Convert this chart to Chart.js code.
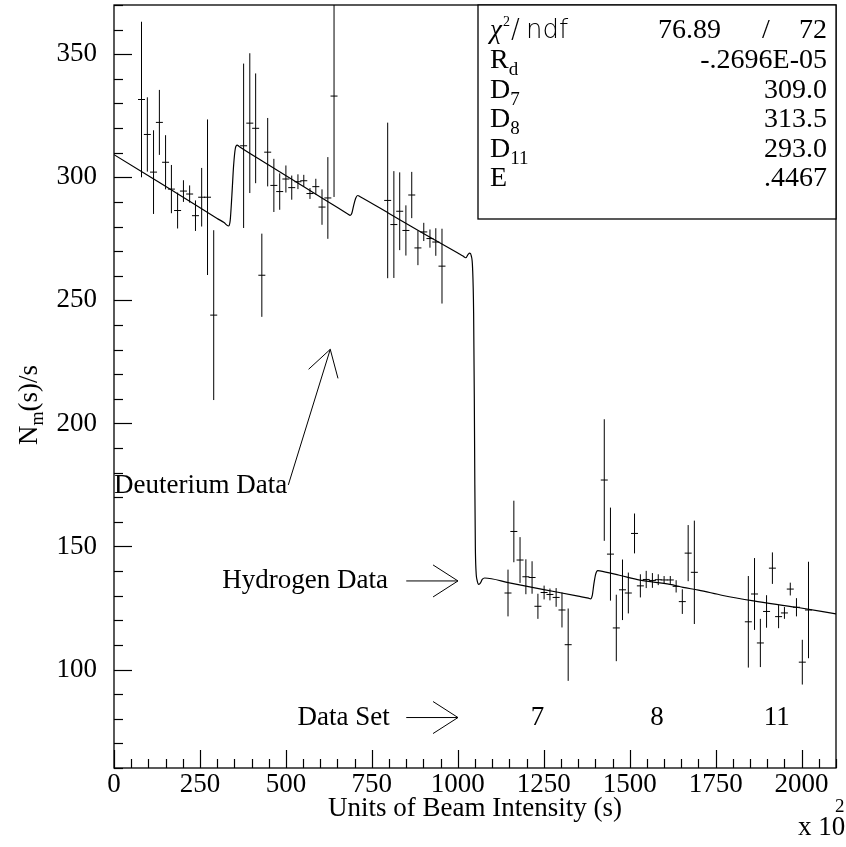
<!DOCTYPE html>
<html><head><meta charset="utf-8">
<script src="https://cdn.jsdelivr.net/npm/chart.js@4/dist/chart.umd.min.js"></script>
<style>html,body{margin:0;padding:0;background:#fff;}#wrap{width:846px;height:847px;}</style>
</head><body><div id="wrap"><canvas id="c" width="846" height="847"></canvas></div>
<script>
// ---- data ----
const deutX = [80, 97, 115, 132, 150, 167, 185, 202, 220, 237, 255, 272, 290,
  377, 395, 412, 430, 447, 465, 482, 500, 517, 535, 552, 570, 587, 605, 622, 640,
  796, 814, 831, 849, 866, 884, 901, 919, 936, 954];
const deutY = [331.6, 317.4, 302.1, 322.3, 306.1, 295.2, 286.5, 294.4, 293.2, 284.4, 291.9, 291.9, 244,
  312.8, 322, 319.9, 260.2, 310.2, 296.7, 294.2, 299.3, 295.8, 298.2, 298.6, 293.4, 296.2, 287.9, 291.6, 333,
  290.6, 280.8, 286.2, 278.4, 292.8, 271.3, 277.8, 275.1, 273.7, 263.9];
const deutErr = [31.6, 15.1, 17, 13.2, 11, 9.8, 7.3, 4.4, 3.5, 6.2, 11.9, 31.6, 34.5,
  33.4, 28.4, 22.3, 16.9, 13.9, 10.8, 7.4, 5.5, 4.9, 3, 2.4, 2.2, 3.2, 7.2, 16.6, 41,
  31.6, 21.7, 15.8, 10.2, 9.4, 7, 3.7, 3.7, 5.6, 15.2];

const hydX = [1146, 1163, 1181, 1198, 1216, 1233, 1251, 1268, 1286, 1303, 1321,
  1426, 1444, 1461, 1479, 1496, 1514, 1531, 1548, 1566, 1583, 1600, 1618, 1635, 1653, 1670, 1688,
  1845, 1863, 1880, 1898, 1915, 1933, 1950, 1967, 1985, 2002, 2020];
const hydY = [131.1, 156.1, 144.5, 137.7, 137.4, 125.7, 131.3, 130.5, 129.3, 124.2, 110.1,
  177, 146.9, 116.9, 132.4, 131.1, 155.3, 134, 136.6, 136.2, 136.5, 136.4, 136.4, 133.8, 127.6, 147.3, 139.5,
  119.4, 130.7, 110.8, 123.6, 141.2, 121.5, 123, 132.7, 125.3, 103, 124.2];
const hydErr = [9.5, 12.5, 9.3, 7.1, 6.6, 5.1, 2.8, 2.4, 3.8, 7.1, 14.7,
  24.7, 18.9, 13.5, 12.3, 8.3, 8.1, 4.7, 3.5, 3, 2.2, 1.6, 1.6, 2.5, 5, 11.4, 21,
  18.6, 14.6, 9.8, 6.6, 6.4, 4.7, 2.4, 2.6, 3.7, 9.1, 19.6];

// fit curve
const fitX = [0, 100, 200, 300, 320, 333, 338, 343, 348, 353, 358, 365, 450, 550, 650, 680, 687, 692, 697, 703, 709, 716,
  800, 900, 1000, 1015, 1023, 1030, 1035, 1039, 1043, 1046, 1048, 1049.5, 1051, 1053, 1056, 1061, 1066, 1071, 1078,
  1150, 1250, 1350, 1380, 1386, 1391, 1396, 1401, 1407, 1413, 1470, 1530, 1617, 1655, 1700, 1771, 1860, 1985, 2100];
const fitY = [309.2, 300.6, 292.0, 283.3, 281.6, 280.2, 282.5, 293, 305, 311.8, 313.1, 312.4, 305.0, 296.4, 287.7, 285.1, 284.5, 285.5, 288.5, 291.5, 292.6, 292.1,
  285.3, 277.2, 269.2, 268.0, 267.3, 268.7, 269.2, 268.2, 263, 245, 210, 175, 150, 140, 136.3, 134.6, 135.2, 136.6, 137.2,
  135.2, 132.5, 129.8, 129.0, 128.7, 130, 135, 138.8, 140.2, 140.1, 138.3, 136.3, 134.6, 133.4, 132.3, 130.1, 127.9, 125.3, 122.6];

const xTickValues = [0, 250, 500, 750, 1000, 1250, 1500, 1750, 2000];
const yTickValues = [100, 150, 200, 250, 300, 350];
const dataSetLabels = ['7', '8', '11'];
const dataSetLabelX = [1232, 1579, 1928];

const statsNames = [['R', 'd'], ['D', '7'], ['D', '8'], ['D', '11'], ['E', '']];
const statsValues = ['-.2696E-05', '309.0', '313.5', '293.0', '.4467'];
const chiValue = '76.89', ndfValue = '72';

const SERIF = '"Liberation Serif", "Times New Roman", serif';
const SANS = '"DejaVu Sans", "Liberation Sans", sans-serif';
const FS = 27;

const pts = (xs, ys) => xs.map((x, i) => ({x: x, y: ys[i]}));

function line(ctx, x1, y1, x2, y2) { ctx.beginPath(); ctx.moveTo(x1, y1); ctx.lineTo(x2, y2); ctx.stroke(); }

const decor = {
  id: 'decor',
  beforeDatasetsDraw(chart) {
    const {ctx, chartArea: a, scales: {x, y}} = chart;
    ctx.save();
    ctx.beginPath(); ctx.rect(a.left, a.top, a.right - a.left, a.bottom - a.top); ctx.clip();
    ctx.strokeStyle = '#000'; ctx.lineWidth = 1;
    const bars = (xs, ys, es) => xs.forEach((xv, i) => {
      const px = x.getPixelForValue(xv);
      line(ctx, px, y.getPixelForValue(ys[i] + es[i]), px, y.getPixelForValue(ys[i] - es[i]));
    });
    bars(deutX, deutY, deutErr);
    bars(hydX, hydY, hydErr);
    ctx.restore();
  },
  afterDraw(chart) {
    const {ctx, chartArea: a, scales: {x, y}} = chart;
    ctx.save();
    ctx.strokeStyle = '#000'; ctx.fillStyle = '#000'; ctx.lineWidth = 1.3;
    ctx.strokeRect(a.left, a.top, a.right - a.left, a.bottom - a.top);
    ctx.lineWidth = 1.2;
    // inward ticks
    for (let v = 0; v <= 2100; v += 50) {
      const px = Math.round(x.getPixelForValue(v)) + 0.5;
      const len = v % 250 === 0 ? 18 : 9;
      line(ctx, px, a.bottom, px, a.bottom - len);
    }
    for (let v = 60; v <= 370; v += 10) {
      const py = Math.round(y.getPixelForValue(v)) + 0.5;
      const len = v % 50 === 0 ? 18 : 9;
      line(ctx, a.left, py, a.left + len, py);
    }
    ctx.lineWidth = 1;
    // annotations
    ctx.textBaseline = 'middle';
    ctx.font = FS + 'px ' + SERIF;
    ctx.textAlign = 'left';
    ctx.fillText('Deuterium Data', x.getPixelForValue(0), y.getPixelForValue(174.5));
    const ax = (vx, vy) => [x.getPixelForValue(vx), y.getPixelForValue(vy)];
    let p1 = ax(507, 175), p2 = ax(629, 230.1), h1 = ax(566, 222), h2 = ax(651.5, 218.3);
    line(ctx, p1[0], p1[1], p2[0], p2[1]);
    line(ctx, h1[0], h1[1], p2[0], p2[1]);
    line(ctx, h2[0], h2[1], p2[0], p2[1]);
    const hArrow = (vy) => {
      const s = ax(850, vy), e = ax(1000.5, vy), u = ax(928, vy + 6.5), d = ax(928, vy - 6.5);
      line(ctx, s[0], s[1], e[0], e[1]);
      line(ctx, u[0], u[1], e[0], e[1]);
      line(ctx, d[0], d[1], e[0], e[1]);
    };
    ctx.textAlign = 'right';
    ctx.fillText('Hydrogen Data', x.getPixelForValue(797), y.getPixelForValue(136));
    hArrow(136);
    ctx.fillText('Data Set', x.getPixelForValue(802), y.getPixelForValue(80.5));
    hArrow(80.5);
    ctx.textAlign = 'center';
    dataSetLabels.forEach((t, i) => ctx.fillText(t, x.getPixelForValue(dataSetLabelX[i]), y.getPixelForValue(80.5)));

    // y-axis title  N_m(s)/s
    ctx.save();
    ctx.translate(a.left - 86, 405);
    ctx.rotate(-Math.PI / 2);
    ctx.textAlign = 'left'; ctx.textBaseline = 'alphabetic';
    ctx.font = FS + 'px ' + SERIF;
    const wN = ctx.measureText('N').width;
    ctx.font = '18px ' + SERIF;
    const wm = ctx.measureText('m').width;
    ctx.font = FS + 'px ' + SERIF;
    const wRest = ctx.measureText('(s)/s').width;
    let tx = -(wN + wm + wRest) / 2, base = 9;
    ctx.fillText('N', tx, base); tx += wN;
    ctx.font = '18px ' + SERIF; ctx.fillText('m', tx, base + 6); tx += wm;
    ctx.font = FS + 'px ' + SERIF; ctx.fillText('(s)/s', tx, base);
    ctx.restore();

    // x 10^2
    ctx.textAlign = 'left'; ctx.textBaseline = 'alphabetic';
    ctx.font = FS + 'px ' + SERIF;
    ctx.fillText('x 10', 798, 835);
    ctx.font = '19px ' + SERIF;
    ctx.fillText('2', 835, 812);

    // stats box
    const bx0 = 478, by0 = a.top, bx1 = a.right, by1 = 219;
    ctx.fillStyle = '#fff';
    ctx.fillRect(bx0, by0, bx1 - bx0, by1 - by0);
    ctx.fillStyle = '#000';
    ctx.lineWidth = 1.3;
    ctx.strokeRect(bx0, by0, bx1 - bx0, by1 - by0);
    const rowY = [29, 59, 89, 118, 148, 177];
    const lx = 490, rx = 827;
    // chi2/ndf row
    ctx.font = 'italic 27px ' + SERIF;
    ctx.fillText('\u03C7', lx, rowY[0] + 9);
    ctx.font = '14px ' + SERIF;
    ctx.fillText('2', lx + 13, rowY[0] - 3);
    ctx.font = '200 26px ' + SANS;
    ctx.fillText('/', lx + 21, rowY[0] + 9);
    ctx.fillText('ndf', lx + 36, rowY[0] + 9);
    ctx.font = '28px ' + SERIF;
    ctx.textAlign = 'right';
    ctx.fillText(chiValue, 721, rowY[0] + 9);
    ctx.fillText(ndfValue, rx, rowY[0] + 9);
    ctx.textAlign = 'center';
    ctx.fillText('/', 766, rowY[0] + 9);
    statsNames.forEach((nm, i) => {
      const yy = rowY[i + 1] + 9;
      ctx.textAlign = 'left';
      ctx.font = '28px ' + SERIF;
      ctx.fillText(nm[0], lx, yy);
      const w = ctx.measureText(nm[0]).width;
      if (nm[1]) { ctx.font = '19px ' + SERIF; ctx.fillText(nm[1], lx + w, yy + 7); }
      ctx.font = '28px ' + SERIF;
      ctx.textAlign = 'right';
      ctx.fillText(statsValues[i], rx, yy);
    });
    ctx.restore();
  }
};

new Chart(document.getElementById('c'), {
  type: 'scatter',
  data: {
    datasets: [
      {label: 'Fit', type: 'line', data: pts(fitX, fitY), borderColor: '#000', borderWidth: 1.2,
        pointRadius: 0, cubicInterpolationMode: 'monotone', fill: false, showLine: true},
      {label: 'Deuterium', data: pts(deutX, deutY), pointStyle: 'line', pointRadius: 3.5,
        pointBorderColor: '#000', pointBorderWidth: 1, borderColor: '#000', showLine: false},
      {label: 'Hydrogen', data: pts(hydX, hydY), pointStyle: 'line', pointRadius: 3.5,
        pointBorderColor: '#000', pointBorderWidth: 1, borderColor: '#000', showLine: false}
    ]
  },
  options: {
    responsive: false, animation: false, devicePixelRatio: 1,
    layout: {padding: {left: 0, right: 10, top: 5, bottom: 0}},
    plugins: {legend: {display: false}, tooltip: {enabled: false}},
    scales: {
      x: {
        type: 'linear', min: 0, max: 2100,
        afterBuildTicks: s => { s.ticks = xTickValues.map(v => ({value: v})); },
        afterFit: s => { s.height = 79; s.paddingLeft = 0; s.paddingRight = 0; },
        grid: {display: false, drawTicks: false}, border: {display: false},
        ticks: {font: {family: SERIF, size: FS}, color: '#000', padding: 1, maxRotation: 0, autoSkip: false,
          callback: v => String(v)},
        title: {display: true, text: 'Units of Beam Intensity (s)', color: '#000',
          font: {family: SERIF, size: FS}, padding: {top: 0, bottom: 22}}
      },
      y: {
        type: 'linear', min: 60, max: 370,
        afterBuildTicks: s => { s.ticks = yTickValues.map(v => ({value: v})); },
        afterFit: s => { s.width = 114; s.paddingTop = 0; s.paddingBottom = 0; },
        grid: {display: false, drawTicks: false}, border: {display: false},
        ticks: {font: {family: SERIF, size: FS}, color: '#000', padding: 17, autoSkip: false,
          callback: v => String(v)}
      }
    }
  },
  plugins: [decor]
});
</script></body></html>
